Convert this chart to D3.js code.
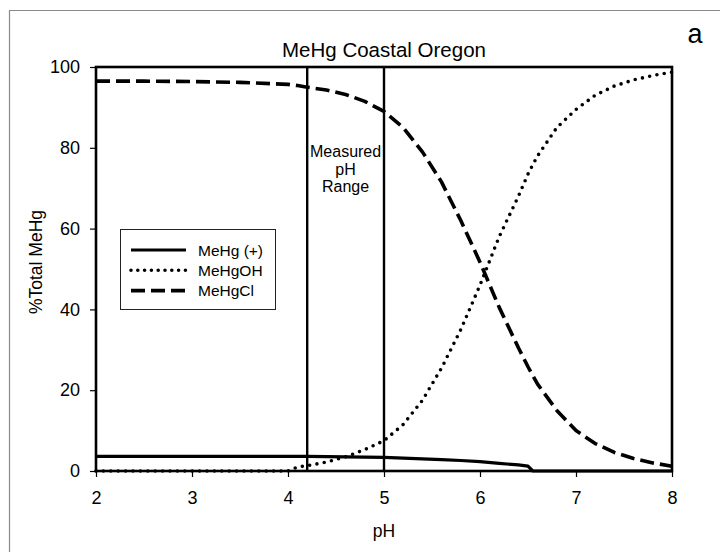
<!DOCTYPE html>
<html>
<head>
<meta charset="utf-8">
<script src="https://cdn.jsdelivr.net/npm/d3@7"></script>
<style>
  body { margin: 0; background: #fff; }
  text { font-family: "Liberation Sans", Arial, sans-serif; fill: #000; }
</style>
</head>
<body>
<div id="chart"></div>
<script>
// data
var pH        = [2, 2.5, 3, 3.5, 4, 4.1, 4.2, 4.4, 4.6, 4.8, 5, 5.2, 5.4, 5.6, 5.8, 6, 6.2, 6.4, 6.5, 6.55, 6.6, 6.8, 7, 7.2, 7.4, 7.6, 7.8, 8];
var mehgPlus  = [3.6, 3.6, 3.6, 3.6, 3.6, 3.6, 3.6, 3.55, 3.5, 3.45, 3.35, 3.2, 3.0, 2.8, 2.6, 2.3, 1.9, 1.5, 1.2, 0, 0, 0, 0, 0, 0, 0, 0, 0];
var mehgOH    = [0, 0, 0, 0, 0, 1.0, 1.3, 2.2, 3.5, 5.3, 7.5, 11.5, 17.5, 25.5, 35, 46, 58, 68, 73.5, 75.8, 78, 85, 89.5, 93, 95.3, 96.8, 97.9, 98.7];
var mehgCl    = [96.5, 96.5, 96.4, 96.2, 95.7, 95.4, 95.0, 94.3, 93.2, 91.5, 89.0, 85.0, 79.0, 71.5, 62.0, 51.7, 40.5, 30.5, 25.8, 23.6, 21.5, 15.0, 10.0, 6.8, 4.6, 3.1, 2.0, 1.2];
var seriesNames = ["MeHg (+)", "MeHgOH", "MeHgCl"];
var xTicks = [2, 3, 4, 5, 6, 7, 8];
var yTicks = [0, 20, 40, 60, 80, 100];
var rangeLines = [4.2, 5];

var W = 720, H = 552;
var margin = {top: 67, right: 48, bottom: 81, left: 96},
    width = W - margin.left - margin.right,
    height = H - margin.top - margin.bottom;

var svgRoot = d3.select("#chart").append("svg")
    .attr("width", W)
    .attr("height", H);

// outer frame (only left and top edges show)
svgRoot.append("path")
    .attr("d", "M9.5," + H + "V10.5H" + W)
    .attr("fill", "none")
    .attr("stroke", "#8a8a8a")
    .attr("stroke-width", 1.2);

var svg = svgRoot.append("g")
    .attr("transform", "translate(" + margin.left + "," + margin.top + ")");

var x = d3.scaleLinear().domain([2, 8]).range([0, width]);
var y = d3.scaleLinear().domain([0, 100]).range([height, 0]);

// axes
var xAxis = svg.append("g")
    .attr("transform", "translate(0," + height + ")")
    .call(d3.axisBottom(x).tickValues(xTicks).tickSize(6).tickPadding(14).tickFormat(d3.format("d")));
var yAxis = svg.append("g")
    .call(d3.axisLeft(y).tickValues(yTicks).tickSize(6).tickPadding(10));
[xAxis, yAxis].forEach(function(a) {
  a.select(".domain").remove();
  a.selectAll("line").attr("stroke", "#000").attr("stroke-width", 1.2);
  a.selectAll("text").style("font-size", "18px").style("font-family", "Liberation Sans, Arial, sans-serif");
});
xAxis.selectAll("text").attr("dy", "0.71em");

// series lines
var series = [
  {name: seriesNames[0], values: mehgPlus, dash: null, width: 3.2, cap: "butt"},
  {name: seriesNames[1], values: mehgOH, dash: "0,7.4", width: 3.6, cap: "round"},
  {name: seriesNames[2], values: mehgCl, dash: "14,6", width: 3.6, cap: "butt"}
];

var line = d3.line()
    .x(function(d) { return x(d[0]); })
    .y(function(d) { return y(d[1]); });

series.forEach(function(s) {
  svg.append("path")
    .datum(pH.map(function(p, i) { return [p, s.values[i]]; }))
    .attr("fill", "none")
    .attr("stroke", "#000")
    .attr("stroke-width", s.width)
    .attr("stroke-linecap", s.cap)
    .attr("stroke-linejoin", "round")
    .attr("stroke-dasharray", s.dash)
    .attr("d", line);
});

// measured range lines
svg.selectAll(".range")
  .data(rangeLines)
  .enter().append("line")
    .attr("x1", function(d) { return x(d); })
    .attr("x2", function(d) { return x(d); })
    .attr("y1", y(0))
    .attr("y2", y(100))
    .attr("stroke", "#000")
    .attr("stroke-width", 2.4);

var rangeText = svg.append("text")
    .attr("x", (x(4.2) + x(5)) / 2)
    .attr("y", 90)
    .attr("text-anchor", "middle")
    .style("font-size", "16px");
["Measured", "pH", "Range"].forEach(function(t, i) {
  rangeText.append("tspan")
    .attr("x", (x(4.2) + x(5)) / 2)
    .attr("dy", i === 0 ? 0 : 17.5)
    .text(t);
});

// plot frame
svg.append("rect")
    .attr("width", width)
    .attr("height", height)
    .attr("fill", "none")
    .attr("stroke", "#000")
    .attr("stroke-width", 2.6);

// legend
var legend = svgRoot.append("g").attr("transform", "translate(120,229)");
legend.append("rect")
    .attr("x", 0.5).attr("y", 0.5)
    .attr("width", 155).attr("height", 80)
    .attr("fill", "#fff")
    .attr("stroke", "#222")
    .attr("stroke-width", 1);
series.forEach(function(s, i) {
  var ly = 21 + i * 20.3;
  legend.append("line")
    .attr("x1", 11).attr("x2", 66)
    .attr("y1", ly).attr("y2", ly)
    .attr("stroke", "#000")
    .attr("stroke-width", s.width)
    .attr("stroke-linecap", s.cap)
    .attr("stroke-dasharray", s.dash ? (s.cap === "round" ? "0,6.8" : "14,6") : null);
  legend.append("text")
    .attr("x", 78)
    .attr("y", ly + 5.5)
    .style("font-size", "15.5px")
    .text(s.name);
});

// titles
svgRoot.append("text")
    .attr("x", margin.left + width / 2)
    .attr("y", 57)
    .attr("text-anchor", "middle")
    .style("font-size", "20.5px")
    .text("MeHg Coastal Oregon");

svgRoot.append("text")
    .attr("x", 695)
    .attr("y", 43)
    .attr("text-anchor", "middle")
    .style("font-size", "27px")
    .text("a");

svgRoot.append("text")
    .attr("x", margin.left + width / 2)
    .attr("y", 537)
    .attr("text-anchor", "middle")
    .style("font-size", "17.5px")
    .text("pH");

svgRoot.append("text")
    .attr("transform", "translate(42,262) rotate(-90)")
    .attr("text-anchor", "middle")
    .style("font-size", "17.5px")
    .text("%Total MeHg");
</script>
</body>
</html>
